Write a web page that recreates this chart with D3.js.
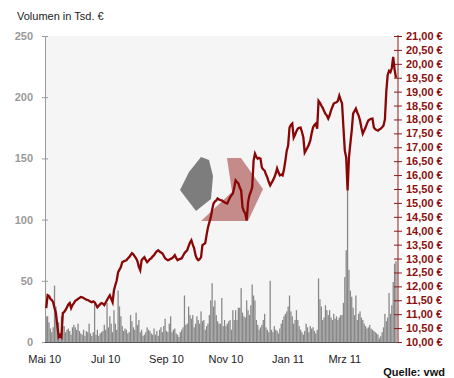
<!DOCTYPE html>
<html><head><meta charset="utf-8">
<script src="https://cdn.jsdelivr.net/npm/d3@7"></script>
<style>
html,body{margin:0;padding:0;background:#fff;}
svg{display:block;font-family:"Liberation Sans",Arial,sans-serif;}
</style></head><body>
<svg id="c" width="454" height="378"></svg>
<script>
// ---- data ----
const firstTradingDay = "2010-05-03";
const tradingDayCount = 254;
const price = [
11.22,11.68,11.65,11.55,11.51,11.43,11.22,11.04,10.60,10.18,
10.25,10.18,11.04,11.08,11.15,11.25,11.35,11.40,11.22,11.33,
11.40,11.48,11.51,11.55,11.58,11.62,11.61,11.58,11.55,11.52,
11.51,11.48,11.45,11.43,11.46,11.43,11.35,11.25,11.30,11.36,
11.40,11.38,11.33,11.42,11.51,11.60,11.68,11.55,11.43,11.86,
12.05,12.22,12.51,12.60,12.69,12.87,12.90,12.92,12.94,13.00,
13.05,13.12,13.19,13.15,13.08,13.01,12.90,12.70,12.58,12.94,
13.00,13.05,12.95,12.87,12.92,12.98,13.01,13.08,13.12,13.20,
13.26,13.30,13.25,13.22,13.19,13.10,13.01,12.97,12.94,12.96,
12.99,13.01,13.06,13.12,13.02,12.94,12.97,12.99,13.01,13.10,
13.19,13.25,13.30,13.45,13.58,13.66,13.50,13.37,13.12,13.00,
12.94,12.98,13.05,13.48,13.52,13.55,13.85,14.12,14.30,14.48,
14.75,14.98,15.05,15.09,15.16,15.12,15.10,15.09,15.05,15.02,
14.99,14.98,15.10,15.20,15.28,15.34,15.55,15.81,15.75,15.70,
15.55,15.45,14.84,14.70,14.62,14.37,15.02,15.27,15.40,15.56,
16.52,16.77,16.65,16.59,16.62,16.59,16.27,16.20,16.16,16.02,
15.91,15.75,15.63,15.72,15.81,15.91,16.05,16.24,16.10,15.99,
16.02,15.99,16.20,16.52,16.88,17.06,17.71,17.80,17.85,17.35,
17.45,17.58,17.67,17.70,17.71,17.55,17.35,16.81,16.90,16.99,
17.10,17.24,17.50,17.71,17.80,17.85,17.67,18.67,18.60,18.50,
18.42,18.30,18.20,18.14,18.03,18.15,18.32,18.45,18.57,18.60,
18.62,18.67,18.85,18.70,18.57,17.71,16.88,16.63,15.45,16.63,
17.13,17.60,18.21,18.30,18.39,18.25,18.14,17.96,17.70,17.49,
17.60,17.71,17.85,17.96,18.00,18.02,18.03,17.71,17.65,17.62,
17.60,17.64,17.67,17.72,17.78,18.00,19.00,19.60,19.75,19.70,
19.85,20.25,19.80,19.50
];
const volume = [
21,21,16,11,8,12,46,29,12,16,
7,21,13,13,8,10,11,9,6,12,
14,12,10,15,9,7,6,10,5,9,
8,15,7,5,8,32,6,10,5,7,
8,9,14,10,32,12,21,15,8,26,
15,10,42,29,21,13,9,11,10,7,
8,22,17,12,10,24,14,18,8,10,
5,6,8,12,10,9,7,6,11,6,
9,5,10,12,8,13,19,9,8,15,
21,8,10,11,7,6,4,8,10,12,
38,14,15,29,22,19,22,12,15,21,
18,15,25,17,18,10,13,15,22,34,
48,29,34,22,17,15,15,36,13,18,
13,15,17,18,10,26,18,26,18,28,
28,44,24,21,20,34,26,22,30,47,
38,34,18,14,10,12,14,18,23,12,
10,8,50,10,8,13,10,9,7,11,
15,18,21,23,25,29,38,25,21,15,
18,26,18,13,10,8,6,9,15,12,
8,13,11,12,9,7,10,52,35,29,
18,20,30,26,22,26,20,18,23,19,
21,18,20,22,22,32,53,75,124,59,
42,37,28,22,38,18,23,25,20,18,
15,13,11,12,14,11,10,9,8,7,
6,3,5,8,12,23,17,20,40,23,
30,49,64,66
];
const volTicks = [0,50,100,150,200,250];
const priceTicks = [10,10.5,11,11.5,12,12.5,13,13.5,14,14.5,15,15.5,16,16.5,17,17.5,18,18.5,19,19.5,20,20.5,21];
const priceTickLabels = ["10,00 €","10,50 €","11,00 €","11,50 €","12,00 €","12,50 €","13,00 €","13,50 €","14,00 €","14,50 €","15,00 €","15,50 €","16,00 €","16,50 €","17,00 €","17,50 €","18,00 €","18,50 €","19,00 €","19,50 €","20,00 €","20,50 €","21,00 €"];
const monthTickDates = ["2010-05-01","2010-07-01","2010-09-01","2010-11-01","2011-01-01","2011-03-01"];
const monthTickLabels = ["Mai 10","Jul 10","Sep 10","Nov 10","Jan 11","Mrz 11"];
const axisTitle = "Volumen in Tsd. €";
const sourceText = "Quelle: vwd";

// ---- build trading dates (weekdays) ----
const parse = d3.timeParse("%Y-%m-%d");
const fmt = d3.timeFormat("%Y-%m-%d");
const dates = [];
{
  let d = parse(firstTradingDay);
  while (dates.length < tradingDayCount) {
    const wd = d.getDay();
    if (wd !== 0 && wd !== 6) dates.push(new Date(d));
    d = d3.timeDay.offset(d, 1);
  }
}
const keys = dates.map(fmt);
const rows = keys.map((k, i) => ({key: k, date: dates[i], price: price[i], vol: volume[i]}));

// ---- layout ----
const L = 45, R = 398, T = 36, B = 342;
const svg = d3.select("#c");
const x = d3.scaleBand().domain(keys).range([45.6, 396.6]).paddingInner(0.08).paddingOuter(0);
const xc = k => x(k) + x.bandwidth() / 2;
const yV = d3.scaleLinear().domain([0, 250]).range([B, T]);
const yP = d3.scaleLinear().domain([10, 21]).range([B, T]);

// plot background
svg.append("rect").attr("x", L).attr("y", T).attr("width", R - L).attr("height", B - T).attr("fill", "#f5f5f5");

// watermark logo
svg.append("path")
  .attr("d", "M201,157 L209,160 L213,176 L211,199 L196,211 L180,190 L189,172 Z")
  .attr("fill", "#7d7d7d");
svg.append("path")
  .attr("d", "M227,158 L241,158 L263,189 L248,221 L201,221 L232,192 Z")
  .attr("fill", "#c58a8a");

// volume bars
svg.append("g").selectAll("rect").data(rows).join("rect")
  .attr("x", d => x(d.key))
  .attr("width", x.bandwidth())
  .attr("y", d => yV(d.vol))
  .attr("height", d => B - yV(d.vol))
  .attr("fill", "#888888");

// left axis
const gl = svg.append("g").attr("transform", `translate(${L},0)`)
  .call(d3.axisLeft(yV).tickValues(volTicks).tickSize(3).tickPadding(9));
gl.select(".domain").attr("stroke", "#9a9a9a");
gl.selectAll(".tick line").attr("x1", 3).attr("stroke", "#9a9a9a");
gl.selectAll(".tick text").attr("fill", "#9a9a9a").attr("font-size", 11).attr("font-weight", "bold")
  .attr("font-family", "'Liberation Sans',Arial,sans-serif");

// right axis
const gr = svg.append("g").attr("transform", `translate(${R},0)`)
  .call(d3.axisRight(yP).tickValues(priceTicks).tickSize(4).tickPadding(4)
    .tickFormat((d, i) => priceTickLabels[i]));
gr.select(".domain").attr("stroke", "#8b1a1a").attr("d", `M0,${T - 1}V${B}`);
gr.selectAll(".tick line").attr("x1", -4).attr("stroke", "#8b1a1a");
gr.selectAll(".tick text").attr("fill", "#8b1010").attr("font-size", 11).attr("font-weight", "bold")
  .attr("font-family", "'Liberation Sans',Arial,sans-serif");

// bottom axis: labels at first trading day of each labelled month
const tickKeys = monthTickDates.map(m => keys.find(k => k >= m));
const gb = svg.append("g").attr("transform", `translate(0,${B})`);
gb.append("path").attr("d", `M${L},0.5H${R}`).attr("stroke", "#555").attr("fill", "none");
gb.selectAll("text").data(tickKeys).join("text")
  .attr("x", (k, i) => (i === 0 ? xc(k) - 1.5 : xc(k)))
  .attr("y", 21)
  .attr("text-anchor", "middle")
  .attr("fill", "#222").attr("font-size", 11)
  .text((k, i) => monthTickLabels[i]);

// price line
svg.append("path").datum(rows)
  .attr("fill", "none")
  .attr("stroke", "#880606")
  .attr("stroke-width", 2.3)
  .attr("stroke-linejoin", "miter")
  .attr("d", d3.line().x(d => xc(d.key)).y(d => yP(d.price)));

// texts
svg.append("text").attr("x", 17).attr("y", 20).attr("font-size", 11).attr("fill", "#222").text(axisTitle);
svg.append("text").attr("x", 445).attr("y", 376).attr("text-anchor", "end").attr("font-size", 11)
  .attr("font-weight", "bold").attr("fill", "#111").text(sourceText);
</script>
</body></html>
